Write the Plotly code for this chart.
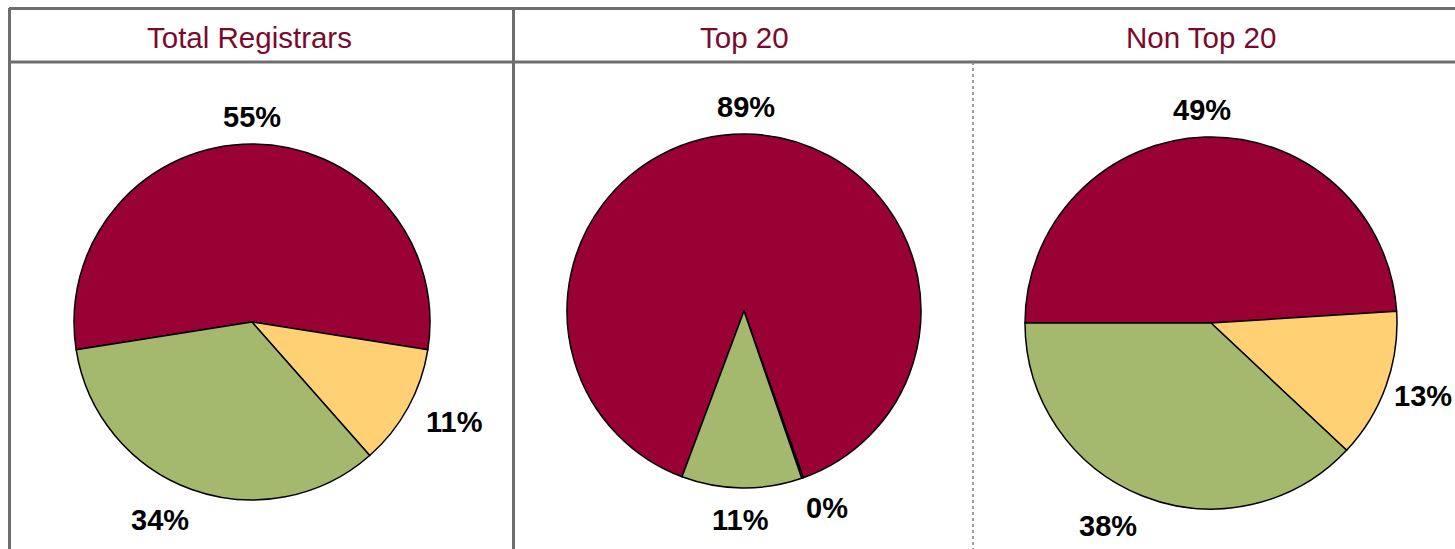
import math
import plotly.graph_objects as go

# ---- data ----
panel_titles = ["Total Registrars", "Top 20", "Non Top 20"]
slice_names = ["Red", "Yellow", "Green"]
total_values = [55, 11, 34]
top20_values = [89, 0.15, 11]
nontop20_values = [49, 13, 38]
slice_colors = ["#990033", "#FFD174", "#A4B96E"]

W, H = 1455, 549
LABEL_SIZE = 29
FONT = "Liberation Sans, Arial"

# pie geometry in page pixels: (center x, center y, radius, start angle clockwise from 12 o'clock)
panels = [
    (total_values, 252, 322, 178, 261),
    (top20_values, 744, 311, 177, 200.5),
    (nontop20_values, 1211, 323, 186, 270),
]

def clip(v, lo=-1.0, hi=1.0):
    return max(lo, min(hi, v))

fig = go.Figure()
for vals, cx, cy, r, rot in panels:
    dom = dict(x=[(cx - r) / W, (cx + r) / W], y=[1 - (cy + r) / H, 1 - (cy - r) / H])
    fig.add_trace(go.Pie(
        labels=slice_names, values=vals, sort=False, direction="clockwise",
        rotation=rot, domain=dom,
        marker=dict(colors=slice_colors, line=dict(color="#000000", width=1.5)),
        textinfo="none", hoverinfo="label+percent", showlegend=False,
    ))
    # outside percentage labels, placed at each slice's mid angle
    total = sum(vals)
    cum = 0.0
    for v in vals:
        mid = rot + 360.0 * (cum + v / 2.0) / total
        cum += v
        a = math.radians(mid)
        s, c = math.sin(a), math.cos(a)
        txt = f"{round(100 * v / total)}%"
        tw = (0.556 * (len(txt) - 1) + 0.889) * LABEL_SIZE
        th = 0.72 * LABEL_SIZE
        d = r + 17 + 5 * max(0.0, -c)
        lx = cx + d * s + (tw / 2) * clip(2.5 * s)
        ly = cy - d * c - (th / 2) * c
        lx = min(lx, W - tw / 2 - 3)
        fig.add_annotation(text=f"<b>{txt}</b>", x=lx / W, y=1 - ly / H,
                           xref="paper", yref="paper", showarrow=False,
                           xanchor="center", yanchor="middle",
                           font=dict(family=FONT, size=LABEL_SIZE, color="#000000"))

# header texts
title_x = [249, 745, 1201]
for t, xp in zip(panel_titles, title_x):
    fig.add_annotation(text=t, x=xp / W, y=1 - 37 / H, xref="paper", yref="paper",
                       showarrow=False, xanchor="center", yanchor="middle",
                       font=dict(family=FONT, size=29.5, color="#7A0A2D"))

line_col = "#6E6E6E"
def hline(ypx, x0px, x1px, **kw):
    fig.add_shape(type="line", xref="paper", yref="paper",
                  x0=x0px / W, x1=x1px / W, y0=1 - ypx / H, y1=1 - ypx / H, **kw)

def vline(xpx, y0px, y1px, **kw):
    fig.add_shape(type="line", xref="paper", yref="paper",
                  x0=xpx / W, x1=xpx / W, y0=1 - y0px / H, y1=1 - y1px / H, **kw)

hline(8.5, 9, W, line=dict(color=line_col, width=3))
hline(62, 9, W, line=dict(color=line_col, width=3))
vline(9.5, 8, H, line=dict(color=line_col, width=3))
vline(513.5, 8, H, line=dict(color=line_col, width=3))
vline(973, 62, H, line=dict(color="#808080", width=1.5, dash="dot"))

fig.update_layout(
    width=W, height=H, margin=dict(l=0, r=0, t=0, b=0),
    paper_bgcolor="#FFFFFF", plot_bgcolor="#FFFFFF",
)

fig.write_html("out.html", config={"displayModeBar": False},
               post_script="document.body.style.margin='0';document.body.style.overflow='hidden';")
